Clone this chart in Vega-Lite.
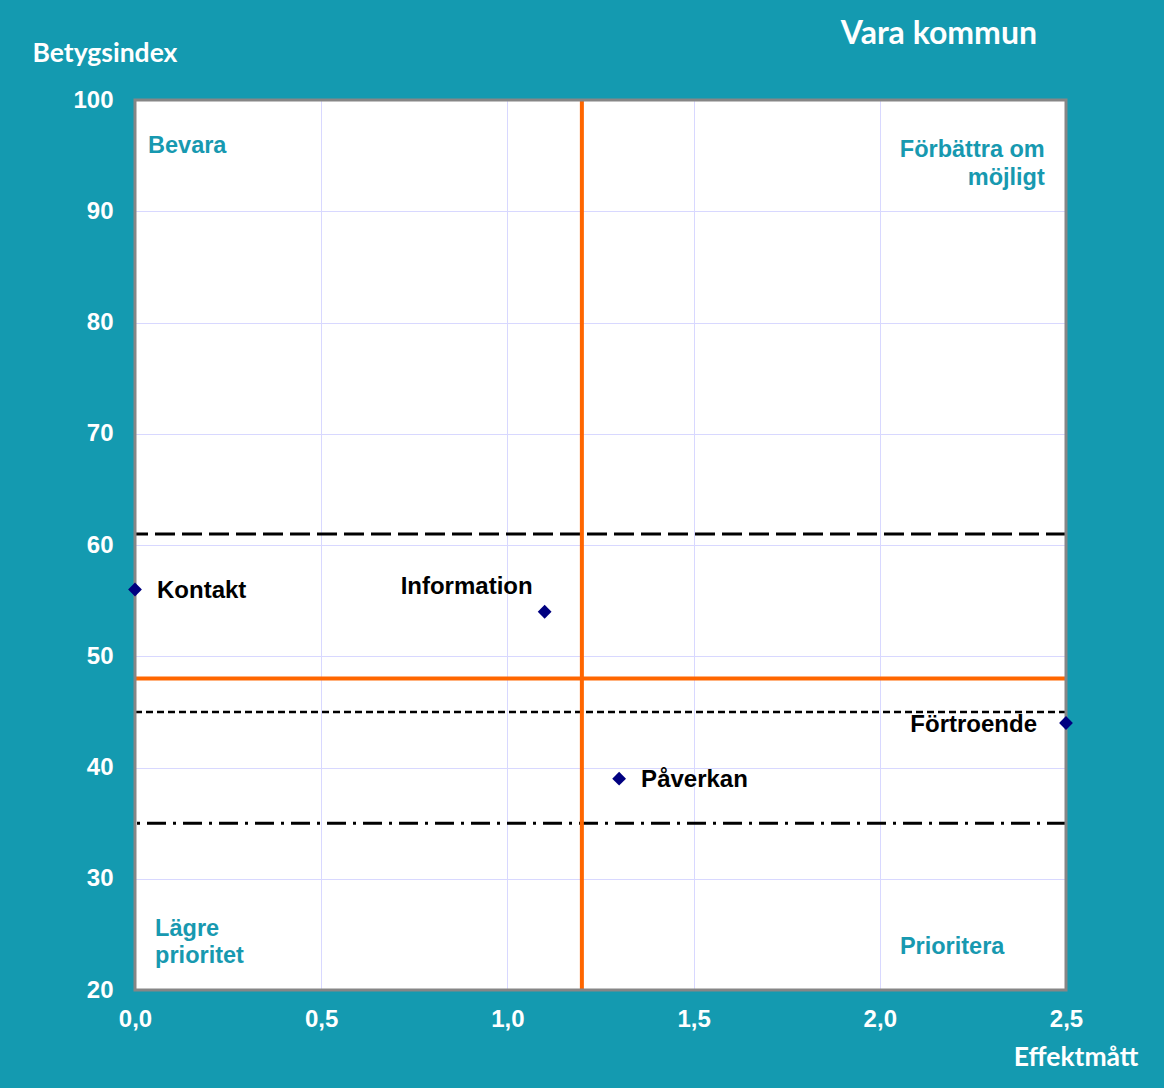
{
  "$schema": "https://vega.github.io/schema/vega-lite/v6.json",
  "width": 931,
  "height": 890,
  "autosize": {"type": "none"},
  "padding": {"left": 135, "top": 100, "right": 98, "bottom": 98},
  "background": "#149AB0",
  "title": {
    "text": "Vara kommun",
    "anchor": "end",
    "frame": "group",
    "font": "Lato",
    "fontSize": 32,
    "fontWeight": "bold",
    "color": "white",
    "dx": -29,
    "offset": -11
  },
  "config": {
    "view": {"fill": "white", "stroke": null},
    "axis": {
      "labelFont": "Liberation Sans",
      "labelFontSize": 24,
      "labelFontWeight": "bold",
      "labelColor": "white",
      "labelFlush": false,
      "labelOverlap": false,
      "ticks": false,
      "domain": false,
      "gridColor": "#D8D8FF",
      "gridWidth": 1,
      "gridOpacity": 1,
      "titleFont": "Lato",
      "titleFontSize": 26.5,
      "titleFontWeight": "bold",
      "titleColor": "white"
    }
  },
  "datasets": {
    "points": [
      {"omrade": "Kontakt", "effekt": 0.0, "betyg": 56},
      {"omrade": "Information", "effekt": 1.1, "betyg": 54},
      {"omrade": "Påverkan", "effekt": 1.3, "betyg": 39},
      {"omrade": "Förtroende", "effekt": 2.5, "betyg": 44}
    ],
    "quadrants": [
      {"label": ["Bevara"], "effekt": 0.035, "betyg": 95.9, "pos": "left"},
      {"label": ["Förbättra om", "möjligt"], "effekt": 2.443, "betyg": 95.5, "pos": "right"},
      {"label": ["Lägre", "prioritet"], "effekt": 0.054, "betyg": 25.48, "pos": "left"},
      {"label": ["Prioritera"], "effekt": 2.054, "betyg": 23.87, "pos": "left"}
    ],
    "one": [{}]
  },
  "layer": [
    {
      "data": {"name": "points"},
      "mark": {"type": "point", "opacity": 0},
      "encoding": {
        "x": {
          "field": "effekt", "type": "quantitative",
          "scale": {"domain": [0, 2.5], "nice": false, "zero": false},
          "axis": {
            "values": [0, 0.5, 1, 1.5, 2, 2.5],
            "labelExpr": "replace(format(datum.value, '.1f'), '.', ',')",
            "labelPadding": 17,
            "title": "Effektmått",
            "titleAnchor": "end",
            "titleAlign": "right",
            "titleX": 1003,
            "titleY": 67,
            "titleBaseline": "middle"
          }
        },
        "y": {
          "field": "betyg", "type": "quantitative",
          "scale": {"domain": [20, 100], "nice": false, "zero": false},
          "axis": {
            "values": [20, 30, 40, 50, 60, 70, 80, 90, 100],
            "labelPadding": 22,
            "title": "Betygsindex",
            "titleAngle": 0,
            "titleAlign": "left",
            "titleBaseline": "middle",
            "titleX": -103,
            "titleY": -47
          }
        }
      }
    },
    {
      "data": {"name": "one"},
      "mark": {"type": "rule", "color": "black", "strokeWidth": 3, "strokeDash": [20, 7]},
      "encoding": {"y": {"datum": 61, "type": "quantitative"}}
    },
    {
      "data": {"name": "one"},
      "mark": {"type": "rule", "color": "black", "strokeWidth": 2.5, "strokeDash": [7, 4]},
      "encoding": {"y": {"datum": 45, "type": "quantitative"}}
    },
    {
      "data": {"name": "one"},
      "mark": {"type": "rule", "color": "black", "strokeWidth": 3, "strokeDash": [19, 7, 3, 7]},
      "encoding": {"y": {"datum": 35, "type": "quantitative"}}
    },
    {
      "data": {"name": "one"},
      "mark": {"type": "rule", "color": "#FF6600", "strokeWidth": 4},
      "encoding": {"y": {"datum": 48, "type": "quantitative"}}
    },
    {
      "data": {"name": "one"},
      "mark": {"type": "rule", "color": "#FF6600", "strokeWidth": 4},
      "encoding": {"x": {"datum": 1.2, "type": "quantitative"}}
    },
    {
      "data": {"name": "one"},
      "mark": {"type": "rect", "fill": null, "fillOpacity": 0, "stroke": "#868686", "strokeWidth": 3},
      "encoding": {
        "x": {"datum": 0, "type": "quantitative"},
        "x2": {"datum": 2.5},
        "y": {"datum": 20, "type": "quantitative"},
        "y2": {"datum": 100}
      }
    },
    {
      "data": {"name": "points"},
      "mark": {"type": "point", "shape": "diamond", "filled": true, "color": "#000080", "size": 190, "opacity": 1, "clip": false},
      "encoding": {
        "x": {"field": "effekt", "type": "quantitative"},
        "y": {"field": "betyg", "type": "quantitative"}
      }
    },
    {
      "data": {"name": "points"},
      "transform": [{"filter": "datum.omrade === 'Kontakt' || datum.omrade === 'Påverkan'"}],
      "mark": {"type": "text", "align": "left", "baseline": "middle", "dx": 22, "dy": 1, "font": "Liberation Sans", "fontSize": 24, "fontWeight": "bold", "color": "black"},
      "encoding": {
        "x": {"field": "effekt", "type": "quantitative"},
        "y": {"field": "betyg", "type": "quantitative"},
        "text": {"field": "omrade"}
      }
    },
    {
      "data": {"name": "points"},
      "transform": [{"filter": "datum.omrade === 'Information'"}],
      "mark": {"type": "text", "align": "right", "baseline": "middle", "dx": -12, "dy": -25, "font": "Liberation Sans", "fontSize": 24, "fontWeight": "bold", "color": "black"},
      "encoding": {
        "x": {"field": "effekt", "type": "quantitative"},
        "y": {"field": "betyg", "type": "quantitative"},
        "text": {"field": "omrade"}
      }
    },
    {
      "data": {"name": "points"},
      "transform": [{"filter": "datum.omrade === 'Förtroende'"}],
      "mark": {"type": "text", "align": "right", "baseline": "middle", "dx": -29, "dy": 2, "font": "Liberation Sans", "fontSize": 24, "fontWeight": "bold", "color": "black"},
      "encoding": {
        "x": {"field": "effekt", "type": "quantitative"},
        "y": {"field": "betyg", "type": "quantitative"},
        "text": {"field": "omrade"}
      }
    },
    {
      "data": {"name": "quadrants"},
      "transform": [{"filter": "datum.pos === 'left'"}],
      "mark": {"type": "text", "align": "left", "baseline": "middle", "lineHeight": 27, "font": "Liberation Sans", "fontSize": 23.5, "fontWeight": "bold", "color": "#1799B0"},
      "encoding": {
        "x": {"field": "effekt", "type": "quantitative"},
        "y": {"field": "betyg", "type": "quantitative"},
        "text": {"field": "label"}
      }
    },
    {
      "data": {"name": "quadrants"},
      "transform": [{"filter": "datum.pos === 'right'"}],
      "mark": {"type": "text", "align": "right", "baseline": "middle", "lineHeight": 28, "font": "Liberation Sans", "fontSize": 23.5, "fontWeight": "bold", "color": "#1799B0"},
      "encoding": {
        "x": {"field": "effekt", "type": "quantitative"},
        "y": {"field": "betyg", "type": "quantitative"},
        "text": {"field": "label"}
      }
    }
  ]
}
